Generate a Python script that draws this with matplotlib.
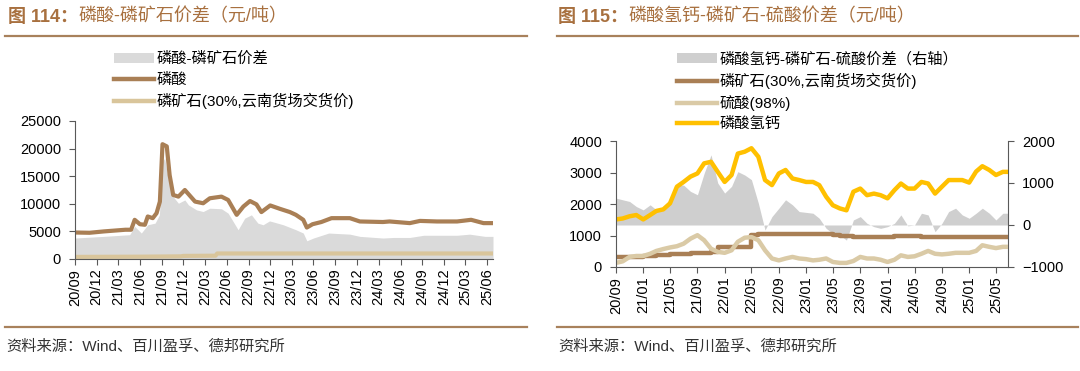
import numpy as np
import pandas as pd
import matplotlib
matplotlib.use('Agg')
import matplotlib.pyplot as plt
from matplotlib.patches import Patch
from matplotlib.lines import Line2D

plt.rcParams['font.family'] = ['Liberation Sans', 'Noto Sans CJK SC', 'DejaVu Sans']

# ---- left chart data (yuan/t) ----
acid_dates = ['2020-09-01', '2020-11-01', '2021-01-01', '2021-04-01', '2021-04-25', '2021-05-10',
              '2021-06-01', '2021-06-22', '2021-07-04', '2021-07-25', '2021-08-10', '2021-08-24',
              '2021-09-04', '2021-09-22', '2021-10-04', '2021-10-19', '2021-11-10', '2021-12-07',
              '2022-01-19', '2022-02-22', '2022-03-22', '2022-05-10', '2022-06-07', '2022-07-13',
              '2022-08-10', '2022-09-07', '2022-10-04', '2022-10-25', '2022-12-01', '2023-01-10',
              '2023-02-22', '2023-03-19', '2023-04-19', '2023-05-04', '2023-05-28', '2023-07-04',
              '2023-08-16', '2023-11-01', '2023-12-13', '2024-03-19', '2024-04-16', '2024-07-10',
              '2024-08-22', '2024-11-01', '2025-01-25', '2025-03-25', '2025-05-16', '2025-06-25']
acid_vals = [4800, 4750, 5000, 5300, 5300, 7100,
             6300, 6200, 7700, 7400, 8300, 10400,
             20800, 20400, 15200, 11600, 11300, 12500,
             10400, 10100, 11000, 11300, 10700, 8000,
             9500, 10500, 9900, 8500, 9700, 9100,
             8500, 8000, 7100, 5700, 6300, 6700,
             7400, 7400, 6800, 6700, 6800, 6500,
             6900, 6800, 6800, 7100, 6500, 6500]

spread_dates = ['2020-09-01', '2021-01-01', '2021-04-19', '2021-05-10', '2021-06-07', '2021-07-04',
                '2021-08-04', '2021-08-22', '2021-09-04', '2021-09-13', '2021-09-28', '2021-10-13',
                '2021-11-10', '2021-12-07', '2021-12-22', '2022-01-25', '2022-02-22', '2022-03-22',
                '2022-05-10', '2022-06-07', '2022-07-19', '2022-08-16', '2022-09-13', '2022-10-10',
                '2022-11-01', '2022-11-28', '2022-12-15', '2023-01-25', '2023-03-19', '2023-04-19',
                '2023-05-04', '2023-06-01', '2023-08-04', '2023-11-01', '2023-12-13', '2024-03-19',
                '2024-05-01', '2024-07-10', '2024-09-07', '2025-01-25', '2025-03-19', '2025-05-22',
                '2025-06-25']
spread_vals = [3800, 4100, 4400, 5900, 4700, 6200,
               6500, 8000, 17650, 18250, 14600, 11600,
               10100, 10700, 9800, 8900, 8600, 9200,
               9100, 8300, 5300, 7400, 8000, 6500,
               6200, 6900, 6700, 6200, 5300, 4700,
               3300, 3800, 4700, 4500, 4100, 3800,
               3900, 3900, 4300, 4300, 4500, 4100,
               4100]

rock_dates = ['2020-09-01', '2021-06-01', '2021-11-20', '2021-12-01', '2022-04-15', '2022-04-22', '2025-06-25']
rock_vals = [380, 420, 480, 560, 600, 1000, 1000]

# ---- right chart data, monthly from 2020-09 ----
months_r = pd.date_range('2020-09-01', '2025-07-01', freq='MS')
dcp_vals = [1510, 1540, 1610, 1650, 1510, 1650, 1780, 1830, 2020, 2550,
            2700, 2870, 2970, 3290, 3340, 3020, 2700, 2920, 3600, 3660,
            3770, 3500, 2760, 2600, 2970, 3080, 2810, 2760, 2700, 2700,
            2600, 2230, 1960, 1860, 1800, 2390, 2490, 2280, 2330, 2280,
            2180, 2440, 2650, 2490, 2490, 2700, 2650, 2330, 2550, 2760,
            2760, 2760, 2680, 3030, 3200, 3080, 2920, 3020, 3020]
gap_vals = [640, 600, 560, 440, 360, 480, 360, 360, 640, 950,
            950, 800, 720, 1230, 1670, 1000, 760, 920, 1270, 1190,
            1080, 520, -120, 200, 400, 600, 480, 320, 300, 280,
            160, -80, -200, -240, -360, 120, 200, 40, -40, -80,
            -40, 40, 240, -20, 0, 280, 240, -160, 40, 320,
            400, 240, 160, 280, 400, 280, 120, 280, 280]
rock_r_vals = [320, 320, 330, 330, 350, 360, 370, 380, 400, 410,
               420, 440, 450, 460, 470, 620, 630, 630, 640, 640,
               1010, 1040, 1040, 1040, 1040, 1040, 1040, 1040, 1040, 1040,
               1040, 1040, 1030, 980, 975, 960, 960, 960, 960, 960,
               960, 1000, 1000, 1000, 1000, 940, 940, 940, 940, 940,
               940, 940, 940, 940, 940, 940, 940, 950, 950]
sulf_vals = [130, 180, 320, 350, 350, 420, 510, 570, 620, 660,
             740, 900, 1010, 850, 580, 480, 450, 530, 800, 930,
             950, 850, 530, 270, 210, 270, 320, 270, 250, 210,
             230, 270, 160, 130, 130, 190, 320, 270, 270, 230,
             160, 230, 370, 320, 340, 420, 510, 420, 400, 420,
             450, 450, 450, 510, 690, 640, 600, 640, 640]

title_l = '磷酸-磷矿石价差（元/吨）'
title_r = '磷酸氢钙-磷矿石-硫酸价差（元/吨）'
source = '资料来源：Wind、百川盈孚、德邦研究所'

TITLE_C = '#A8703F'
RULE_C = '#A8815C'
ACID_C = '#A97F55'
ROCK_C = '#D9C59B'
GRAY_L = '#DADADA'
GRAY_R = '#CFCFCF'
SULF_C = '#DACAA6'
DCP_C = '#FFC000'
AX_C = '#595959'

W, H = 1080, 371
fig = plt.figure(figsize=(W / 100, H / 100), dpi=100)

def fx(px):
    return px / W

def fy(py):
    return 1 - py / H

def style_axis(ax):
    ax.tick_params(direction='out', length=4, width=0.8, color=AX_C, labelsize=10.5, pad=3)
    for s in ['top', 'right']:
        ax.spines[s].set_visible(False)
    for s in ['left', 'bottom']:
        ax.spines[s].set_color(AX_C)
        ax.spines[s].set_linewidth(0.8)

# ---- left chart ----
ax1 = fig.add_axes([fx(75), fy(259), fx(493) - fx(75), (259 - 121) / H])
ax1.fill_between(pd.to_datetime(spread_dates), spread_vals, color=GRAY_L, lw=0)
ax1.plot(pd.to_datetime(rock_dates), rock_vals, color=ROCK_C, lw=3)
ax1.plot(pd.to_datetime(acid_dates), acid_vals, color=ACID_C, lw=3)
ax1.set_ylim(0, 25000)
ax1.set_yticks(np.arange(0, 25001, 5000))
ax1.set_xlim(pd.Timestamp('2020-09-01'), pd.Timestamp('2025-06-25'))
ticks_l = pd.date_range('2020-09-01', '2025-06-01', freq='3MS')
ax1.set_xticks(ticks_l)
ax1.set_xticklabels([d.strftime('%y/%m') for d in ticks_l], rotation=90)
style_axis(ax1)
ax1.tick_params(axis='y', pad=6)

# ---- right chart ----
ax2 = fig.add_axes([fx(616), fy(267), fx(1008) - fx(616), (267 - 141) / H])
ax2r = ax2.twinx()
ax2r.fill_between(months_r, gap_vals, 0, color=GRAY_R, lw=0)
ax2.plot(months_r, rock_r_vals, color=ACID_C, lw=3.2, drawstyle='steps-post')
ax2.plot(months_r, sulf_vals, color=SULF_C, lw=3.2)
ax2.plot(months_r, dcp_vals, color=DCP_C, lw=3.2)
ax2.set_zorder(ax2r.get_zorder() + 1)
ax2.patch.set_visible(False)
ax2.set_ylim(0, 4000)
ax2.set_yticks(np.arange(0, 4001, 1000))
ax2r.set_ylim(-1000, 2000)
ax2r.set_yticks(np.arange(-1000, 2001, 1000))
ax2.set_xlim(pd.Timestamp('2020-09-01'), pd.Timestamp('2025-06-24'))
ticks_r = pd.date_range('2020-09-01', '2025-05-01', freq='4MS')
ax2.set_xticks(ticks_r)
ax2.set_xticklabels([d.strftime('%y/%m') for d in ticks_r], rotation=90)
style_axis(ax2)
ax2.tick_params(axis='y', pad=6)
ax2r.tick_params(direction='out', length=4, width=0.8, color=AX_C, labelsize=10.5, pad=6)
for s in ['top', 'left', 'bottom']:
    ax2r.spines[s].set_visible(False)
ax2r.spines['right'].set_color(AX_C)
ax2r.spines['right'].set_linewidth(0.8)

# ---- legends ----
leg_kw = dict(loc='upper left', frameon=False, handlelength=2.6,
              handleheight=0.6, handletextpad=0.2, borderpad=0, borderaxespad=0)
h_l = [Patch(facecolor=GRAY_L, edgecolor='none'),
       Line2D([], [], color=ACID_C, lw=3.2),
       Line2D([], [], color=ROCK_C, lw=3.2)]
fig.legend(h_l, ['磷酸-磷矿石价差', '磷酸', '磷矿石(30%,云南货场交货价)'],
           bbox_to_anchor=(fx(114), fy(52)), fontsize=11, labelspacing=0.42, **leg_kw)
h_r = [Patch(facecolor=GRAY_R, edgecolor='none'),
       Line2D([], [], color=ACID_C, lw=3.2),
       Line2D([], [], color=SULF_C, lw=3.2),
       Line2D([], [], color=DCP_C, lw=3.2)]
fig.legend(h_r, ['磷酸氢钙-磷矿石-硫酸价差（右轴）', '磷矿石(30%,云南货场交货价)', '硫酸(98%)', '磷酸氢钙'],
           bbox_to_anchor=(fx(677), fy(52)), fontsize=11, labelspacing=0.4, **leg_kw)

# ---- titles, rules, source ----
for x0, num, txt in [(8, '图 114：', title_l), (558, '图 115：', title_r)]:
    t = fig.text(fx(x0), fy(17), num, fontsize=13, fontweight='bold', color=TITLE_C,
                 ha='left', va='center')
    ax1.annotate(txt, xy=(1, 0.5), xycoords=t, fontsize=13, color=TITLE_C,
                 ha='left', va='center', annotation_clip=False)

for xa, xb in [(5, 527), (557, 1078)]:
    for yy in [36, 327]:
        fig.add_artist(Line2D([fx(xa), fx(xb)], [fy(yy), fy(yy)], color=RULE_C, lw=1.6))

fig.text(fx(6), fy(347), source, fontsize=11, color='#333333', ha='left', va='center')
fig.text(fx(558), fy(347), source, fontsize=11, color='#333333', ha='left', va='center')

fig.savefig('out.png', dpi=100)
